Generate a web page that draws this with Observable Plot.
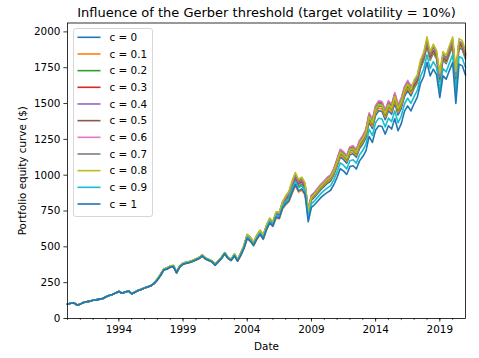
<!DOCTYPE html>
<html><head><meta charset="utf-8">
<script src="https://cdn.jsdelivr.net/npm/d3@7"></script>
<script src="https://cdn.jsdelivr.net/npm/@observablehq/plot@0.6"></script>
<style>body{margin:0;background:#fff}</style>
</head><body><div id="chart"></div>
<script>
const titleText = "Influence of the Gerber threshold (target volatility = 10%)";
const xLabel = "Date";
const yLabel = "Portfolio equity curve ($)";
const seriesLabels = ["c = 0","c = 0.1","c = 0.2","c = 0.3","c = 0.4","c = 0.5","c = 0.6","c = 0.7","c = 0.8","c = 0.9","c = 1"];
const seriesColors = ["#1f77b4","#ff7f0e","#2ca02c","#d62728","#9467bd","#8c564b","#e377c2","#7f7f7f","#bcbd22","#17becf","#1f77b4"];
const yTicks = [0,250,500,750,1000,1250,1500,1750,2000];
const majorTickYears = [1994,1999,2004,2009,2014,2019];
// quarterly observations, Jan 1990 .. Jan 2021
const firstQuarter = "1990-01-01", lastQuarter = "2021-01-01";

const c0 = [100,106,109,94,100,112,117,121,127,130,135,140,152,160,168,178,188,176,185,192,
172,183,195,203,212,220,228,245,
270,302,340,347,360,364,320,362,380,387,392,400,410,420,438,417,407,397,374,397,422,454,422,407,
442,404,445,496,568,548,518,563,597,563,629,678,655,718,713,784,817,842,904,960,914,929,893,728,826,847,874,901,922,944,959,1002,1062,1127,1110,1084,1143,1149,1125,1186,1218,1261,1369,1325,1418,1450,1444,1387,1450,1425,1504,1420,1466,1549,1591,1553,1607,1646,1747,1800,1902,1803,1853,1811,1653,1803,1779,1842,1902,1646,1891,1877,1811];
const c01 = [100,106,109,94,100,112,117,121,127,130,135,140,152,160,168,178,188,176,185,192,
172,183,195,203,212,220,228,245,
267,299,337,344,357,361,317,359,377,384,389,397,407,417,435,414,404,394,371,394,419,451,419,404,
437,399,438,488,557,537,507,552,585,552,617,665,642,702,696,765,794,815,872,927,882,897,862,737,835,856,883,910,932,954,970,1013,1075,1140,1124,1097,1157,1163,1138,1200,1233,1276,1386,1341,1435,1468,1462,1404,1468,1442,1522,1438,1484,1566,1609,1571,1616,1654,1755,1808,1911,1811,1862,1819,1661,1811,1787,1851,1911,1658,1900,1886,1819];
const c02 = [100,106,109,94,100,112,117,121,127,130,135,140,152,160,168,178,188,176,185,192,
173,184,196,204,213,221,229,246,
271,303,341,348,361,365,321,363,381,388,393,401,411,421,439,418,408,398,375,398,423,455,423,408,
443,405,447,498,571,551,520,566,600,566,632,681,658,722,717,788,822,848,912,969,922,937,901,745,843,865,892,919,941,965,981,1025,1087,1154,1137,1110,1170,1177,1152,1214,1248,1292,1402,1357,1452,1485,1479,1421,1485,1460,1540,1456,1502,1583,1626,1588,1624,1661,1763,1817,1920,1820,1871,1828,1670,1820,1795,1860,1920,1669,1909,1895,1828];
const c03 = [100,106,109,94,100,112,117,121,127,130,135,140,152,160,168,178,188,176,185,192,
173,184,196,204,213,221,229,246,
273,305,343,350,363,367,323,365,383,390,395,403,413,423,441,420,410,400,377,400,425,457,425,410,
446,407,451,502,577,556,526,572,605,572,639,688,664,729,725,798,834,862,927,985,938,954,917,754,852,873,901,929,951,975,991,1036,1100,1167,1151,1123,1184,1191,1165,1229,1262,1307,1419,1373,1469,1503,1497,1437,1503,1477,1558,1475,1519,1601,1644,1606,1632,1669,1771,1825,1929,1828,1879,1836,1678,1828,1804,1868,1929,1680,1917,1904,1836];
const c04 = [100,106,109,94,100,112,117,121,127,130,135,140,152,160,168,178,188,176,185,192,
173,184,196,204,213,221,229,246,
273,305,343,350,363,367,323,365,383,390,395,403,413,423,441,420,410,400,377,400,425,457,425,410,
447,408,453,504,580,559,528,575,608,575,642,691,667,733,729,802,839,868,935,994,946,962,925,757,854,876,904,931,953,979,995,1039,1104,1171,1155,1127,1188,1195,1169,1233,1267,1311,1423,1378,1474,1508,1502,1442,1508,1482,1563,1480,1525,1606,1650,1611,1639,1675,1778,1832,1936,1835,1886,1843,1685,1835,1810,1875,1936,1689,1925,1911,1843];
const c05 = [100,106,109,94,100,112,117,121,127,130,135,140,152,160,168,178,188,176,185,192,
173,184,196,204,213,221,229,246,
274,306,344,351,364,368,324,366,384,391,396,404,414,424,442,421,411,401,378,401,426,458,426,411,
448,410,454,506,582,562,531,577,611,577,645,694,671,737,734,807,845,875,943,1002,954,970,932,760,857,879,907,935,957,983,999,1044,1109,1177,1160,1132,1194,1201,1175,1239,1273,1317,1430,1384,1481,1515,1509,1449,1515,1489,1571,1488,1532,1613,1657,1618,1642,1678,1781,1835,1940,1838,1890,1846,1688,1838,1814,1879,1940,1694,1928,1914,1846];
const c06 = [100,106,109,94,100,112,117,121,127,130,135,140,152,160,168,178,188,176,185,192,
174,185,197,205,214,222,230,247,
275,307,345,352,365,369,325,367,385,392,397,405,415,425,443,422,412,402,379,402,427,459,427,412,
449,410,455,507,584,563,532,579,613,579,646,696,672,739,736,809,848,878,947,1006,958,974,936,763,860,882,910,938,960,986,1002,1047,1113,1181,1164,1136,1198,1205,1179,1243,1277,1322,1435,1389,1486,1520,1514,1454,1520,1494,1576,1493,1537,1618,1662,1623,1645,1681,1784,1839,1944,1842,1893,1850,1692,1842,1817,1882,1944,1698,1932,1918,1850];
const c07 = [100,106,109,94,100,112,117,121,127,130,135,140,152,160,168,178,188,176,185,192,
173,184,196,204,213,221,229,246,
275,307,345,352,365,369,325,367,385,392,397,405,415,425,443,422,412,402,379,402,427,459,427,412,
450,411,456,508,585,564,533,580,614,580,648,698,674,741,738,811,850,881,951,1011,962,978,940,754,852,873,901,929,951,975,991,1036,1100,1167,1151,1123,1184,1191,1165,1229,1262,1307,1419,1373,1469,1503,1497,1437,1503,1477,1558,1475,1519,1601,1644,1606,1649,1685,1788,1842,1947,1845,1897,1853,1695,1845,1820,1886,1947,1703,1935,1921,1853];
const c08 = [101,107,110,95,101,113,118,122,128,131,136,141,153,161,169,179,189,177,186,193,
174,185,197,205,214,222,230,247,
277,309,347,354,367,371,327,369,387,394,399,407,417,427,445,424,414,404,381,404,429,461,429,414,
451,412,458,510,588,567,536,583,617,583,651,701,677,745,742,816,856,888,959,1019,970,986,948,750,847,869,897,924,946,970,986,1030,1094,1161,1144,1116,1177,1184,1159,1222,1255,1299,1410,1365,1460,1494,1488,1429,1494,1468,1549,1466,1510,1592,1635,1597,1665,1700,1804,1859,1965,1862,1914,1870,1712,1862,1837,1903,1965,1725,1953,1939,1870];
const c09 = [100,106,109,94,100,112,117,121,127,130,135,140,152,160,168,178,188,176,185,192,
173,184,196,204,213,221,229,246,
271,303,341,348,361,365,321,363,381,388,393,401,411,421,439,418,408,398,375,398,423,455,423,408,
442,404,445,496,568,548,518,563,597,563,629,678,655,718,713,784,817,842,904,960,914,929,893,701,801,821,847,873,894,912,927,969,1023,1086,1070,1044,1101,1108,1084,1143,1174,1216,1320,1277,1366,1398,1392,1337,1398,1374,1449,1365,1413,1497,1537,1501,1550,1592,1689,1741,1840,1744,1792,1751,1593,1744,1720,1782,1840,1568,1828,1816,1751];
const c1 = [100,106,109,94,100,112,117,121,127,130,135,140,152,160,168,178,188,176,185,192,
172,183,195,203,212,220,228,245,
268,300,338,345,358,362,318,360,378,385,390,398,408,418,436,415,405,395,372,395,420,452,420,405,
438,400,440,490,560,540,510,555,588,555,620,668,645,706,700,770,800,822,880,935,890,905,870,675,775,795,820,845,865,880,895,935,985,1045,1030,1005,1060,1066,1043,1100,1130,1170,1270,1229,1315,1345,1340,1287,1345,1322,1395,1310,1360,1445,1484,1449,1500,1545,1640,1690,1786,1693,1740,1700,1542,1693,1670,1730,1786,1500,1775,1763,1700];

const allSeries = [c0,c01,c02,c03,c04,c05,c06,c07,c08,c09,c1];
const dates = d3.utcMonth.every(3).range(new Date(firstQuarter), d3.utcDay.offset(new Date(lastQuarter), 1));
const yearDate = y => new Date(Date.UTC(y, 0, 1));
const minorTicks = d3.range(1990, 2021).map(yearDate);
const majorTicks = majorTickYears.map(yearDate);
const FONT = "'DejaVu Sans', sans-serif";

const lineMarks = allSeries.map((vals, i) =>
  Plot.lineY(vals.map((v, j) => ({date: dates[j], value: v})), {
    x: "date", y: "value", stroke: seriesColors[i], strokeWidth: 1.6, strokeLinejoin: "round"
  }));

const chart = Plot.plot({
  width: 479, height: 358,
  marginLeft: 67, marginRight: 14, marginTop: 22.5, marginBottom: 40,
  style: {fontFamily: FONT, fontSize: "10.4px", color: "black", background: "white"},
  x: {type: "utc", domain: [new Date(firstQuarter), new Date(lastQuarter)]},
  y: {domain: [0, 2062]},
  marks: [
    ...lineMarks,
    Plot.frame({strokeWidth: 0.8}),
    Plot.axisX({ticks: minorTicks, tickSize: 2.1, tickFormat: () => "", strokeWidth: 0.6, label: null}),
    Plot.axisX({ticks: majorTicks, tickSize: 3.6, tickPadding: 3.5, tickFormat: d3.utcFormat("%Y"), strokeWidth: 0.8, label: null}),
    Plot.axisY({ticks: yTicks, tickSize: 3.6, tickPadding: 3.5, tickFormat: d3.format("d"), strokeWidth: 0.8, label: null}),
    Plot.text([titleText], {text: d => d, frameAnchor: "top", lineAnchor: "middle", textAnchor: "middle", dy: -10.5, fontSize: 13}),
    Plot.text([xLabel], {text: d => d, frameAnchor: "bottom", lineAnchor: "middle", textAnchor: "middle", dy: 28.5}),
    Plot.text([yLabel], {text: d => d, frameAnchor: "left", lineAnchor: "middle", textAnchor: "middle", dx: -45, rotate: -90})
  ]
});
document.getElementById("chart").appendChild(chart);

const svgEl = chart.tagName.toLowerCase() === "svg" ? chart : chart.querySelector("svg");
const lg = d3.select(svgEl).append("g").attr("font-family", FONT).attr("font-size", 10.4).attr("text-anchor", "start");
lg.append("rect").attr("x", 73.5).attr("y", 28.5).attr("width", 79).attr("height", 188)
  .attr("rx", 2.5).attr("fill", "white").attr("fill-opacity", 0.8).attr("stroke", "#cccccc").attr("stroke-width", 0.8);
seriesLabels.forEach((lab, i) => {
  const y = 37.3 + i * 16.67;
  lg.append("line").attr("x1", 77.5).attr("x2", 100.5).attr("y1", y).attr("y2", y)
    .attr("stroke", seriesColors[i]).attr("stroke-width", 1.6);
  lg.append("text").attr("x", 109.5).attr("y", y).attr("dy", "0.35em").attr("fill", "black").text(lab);
});
</script>
</body></html>
